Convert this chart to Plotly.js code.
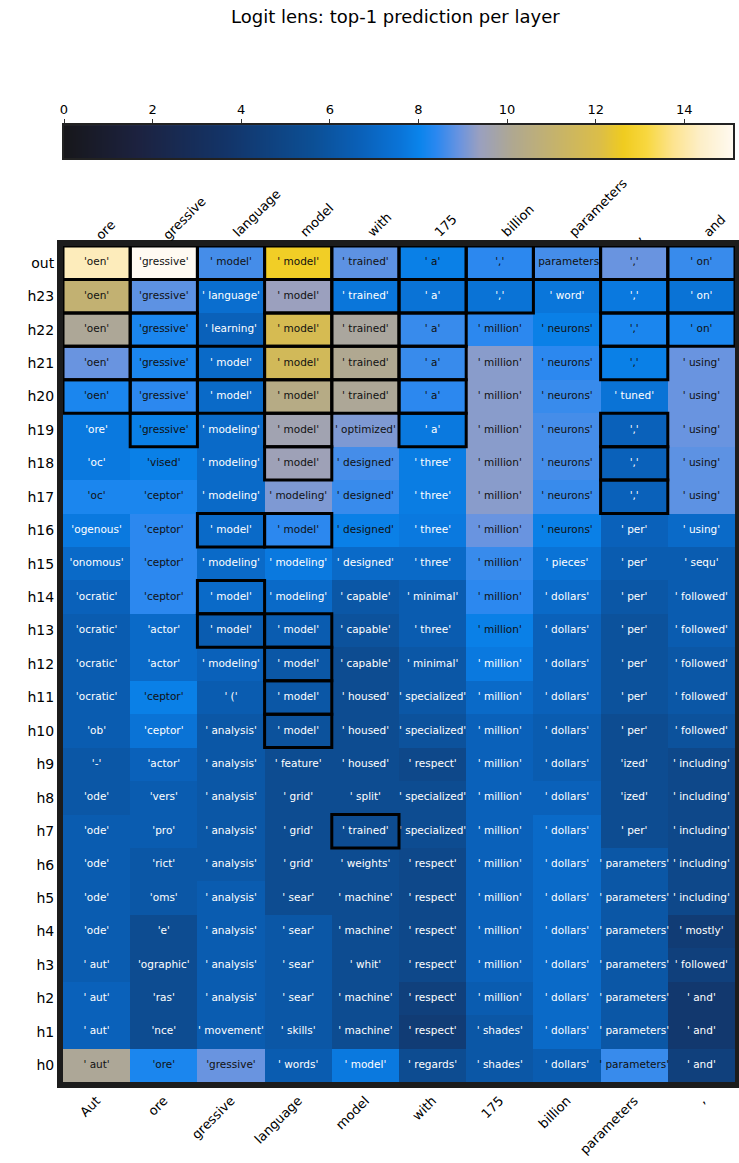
<!DOCTYPE html>
<html><head><meta charset="utf-8">
<script src="https://cdn.plot.ly/plotly-3.0.1.min.js"></script>
<style>html,body{margin:0;padding:0;background:#fff}</style>
</head><body><div id="chart" style="width:739px;height:1163px"></div>
<script>
// Input tokens (bottom axis) and true next tokens (top axis)
const inputTokens = ['Aut', 'ore', 'gressive', ' language', ' model', ' with', ' 175', ' billion', ' parameters', ','];
const nextTokens = ['ore', 'gressive', ' language', ' model', ' with', ' 175', ' billion', ' parameters', ',', ' and'];
const layerLabels = ['out', 'h23', 'h22', 'h21', 'h20', 'h19', 'h18', 'h17', 'h16', 'h15', 'h14', 'h13', 'h12',
  'h11', 'h10', 'h9', 'h8', 'h7', 'h6', 'h5', 'h4', 'h3', 'h2', 'h1', 'h0'];

// Top-1 predicted token per layer (rows, top = output) and position (columns)
const topTokens = [
  ["'oen'", "'gressive'", "' model'", "' model'", "' trained'", "' a'", "','", "' parameters'", "','", "' on'"],
  ["'oen'", "'gressive'", "' language'", "' model'", "' trained'", "' a'", "','", "' word'", "','", "' on'"],
  ["'oen'", "'gressive'", "' learning'", "' model'", "' trained'", "' a'", "' million'", "' neurons'", "','", "' on'"],
  ["'oen'", "'gressive'", "' model'", "' model'", "' trained'", "' a'", "' million'", "' neurons'", "','", "' using'"],
  ["'oen'", "'gressive'", "' model'", "' model'", "' trained'", "' a'", "' million'", "' neurons'", "' tuned'", "' using'"],
  ["'ore'", "'gressive'", "' modeling'", "' model'", "' optimized'", "' a'", "' million'", "' neurons'", "','", "' using'"],
  ["'oc'", "'vised'", "' modeling'", "' model'", "' designed'", "' three'", "' million'", "' neurons'", "','", "' using'"],
  ["'oc'", "'ceptor'", "' modeling'", "' modeling'", "' designed'", "' three'", "' million'", "' neurons'", "','", "' using'"],
  ["'ogenous'", "'ceptor'", "' model'", "' model'", "' designed'", "' three'", "' million'", "' neurons'", "' per'", "' using'"],
  ["'onomous'", "'ceptor'", "' modeling'", "' modeling'", "' designed'", "' three'", "' million'", "' pieces'", "' per'", "' sequ'"],
  ["'ocratic'", "'ceptor'", "' model'", "' modeling'", "' capable'", "' minimal'", "' million'", "' dollars'", "' per'", "' followed'"],
  ["'ocratic'", "'actor'", "' model'", "' model'", "' capable'", "' three'", "' million'", "' dollars'", "' per'", "' followed'"],
  ["'ocratic'", "'actor'", "' modeling'", "' model'", "' capable'", "' minimal'", "' million'", "' dollars'", "' per'", "' followed'"],
  ["'ocratic'", "'ceptor'", "' ('", "' model'", "' housed'", "' specialized'", "' million'", "' dollars'", "' per'", "' followed'"],
  ["'ob'", "'ceptor'", "' analysis'", "' model'", "' housed'", "' specialized'", "' million'", "' dollars'", "' per'", "' followed'"],
  ["'-'", "'actor'", "' analysis'", "' feature'", "' housed'", "' respect'", "' million'", "' dollars'", "'ized'", "' including'"],
  ["'ode'", "'vers'", "' analysis'", "' grid'", "' split'", "' specialized'", "' million'", "' dollars'", "'ized'", "' including'"],
  ["'ode'", "'pro'", "' analysis'", "' grid'", "' trained'", "' specialized'", "' million'", "' dollars'", "' per'", "' including'"],
  ["'ode'", "'rict'", "' analysis'", "' grid'", "' weights'", "' respect'", "' million'", "' dollars'", "' parameters'", "' including'"],
  ["'ode'", "'oms'", "' analysis'", "' sear'", "' machine'", "' respect'", "' million'", "' dollars'", "' parameters'", "' including'"],
  ["'ode'", "'e'", "' analysis'", "' sear'", "' machine'", "' respect'", "' million'", "' dollars'", "' parameters'", "' mostly'"],
  ["' aut'", "'ographic'", "' analysis'", "' sear'", "' whit'", "' respect'", "' million'", "' dollars'", "' parameters'", "' followed'"],
  ["' aut'", "'ras'", "' analysis'", "' sear'", "' machine'", "' respect'", "' million'", "' dollars'", "' parameters'", "' and'"],
  ["' aut'", "'nce'", "' movement'", "' skills'", "' machine'", "' respect'", "' shades'", "' dollars'", "' parameters'", "' and'"],
  ["' aut'", "'ore'", "'gressive'", "' words'", "' model'", "' regards'", "' shades'", "' dollars'", "' parameters'", "' and'"]
];

// Logit of the top-1 token
const logits = [
  [14.2, 15.1, 8.6, 12.7, 8.8, 7.9, 8.4, 8.6, 8.9, 8.5],
  [10.9, 8.8, 7.3, 9.4, 7.6, 7.5, 7.5, 7.6, 7.7, 7.5],
  [10.0, 8.2, 6.7, 11.8, 9.9, 8.5, 8.4, 7.9, 8.2, 8.2],
  [8.9, 8.2, 7.1, 11.6, 10.1, 8.5, 9.2, 8.4, 7.9, 8.9],
  [8.2, 8.4, 7.1, 10.4, 10.0, 8.4, 9.2, 8.5, 7.5, 8.9],
  [7.7, 7.9, 7.1, 9.6, 9.1, 7.7, 9.2, 8.6, 6.7, 8.9],
  [7.7, 7.9, 7.1, 9.5, 8.6, 7.8, 9.2, 8.6, 6.7, 8.8],
  [8.2, 8.2, 7.1, 9.1, 8.5, 7.8, 9.2, 8.5, 6.7, 8.8],
  [7.7, 8.4, 7.1, 8.4, 7.9, 7.7, 8.9, 7.9, 6.7, 7.1],
  [7.1, 8.4, 7.1, 7.7, 7.1, 7.1, 8.5, 7.5, 6.4, 6.4],
  [6.7, 8.4, 7.1, 7.1, 6.1, 6.4, 8.4, 7.1, 6.1, 6.4],
  [6.4, 7.1, 6.4, 6.4, 5.8, 6.4, 7.9, 6.7, 5.8, 6.4],
  [6.4, 7.1, 6.7, 6.1, 5.4, 6.1, 7.7, 6.7, 5.8, 6.1],
  [6.4, 7.9, 6.4, 6.1, 5.4, 6.1, 7.1, 6.7, 5.8, 6.1],
  [6.4, 7.5, 6.1, 5.8, 5.4, 5.8, 6.7, 6.4, 5.4, 5.8],
  [6.1, 6.7, 6.1, 5.4, 5.4, 5.1, 6.7, 6.4, 5.4, 5.1],
  [6.1, 6.4, 6.1, 5.4, 5.4, 5.4, 6.7, 6.7, 5.4, 5.1],
  [6.4, 6.4, 6.1, 5.4, 5.4, 5.4, 6.7, 7.1, 5.4, 5.1],
  [6.4, 6.1, 6.1, 5.4, 5.4, 5.1, 6.7, 7.1, 6.1, 5.1],
  [6.4, 6.1, 6.4, 5.4, 5.4, 5.1, 6.7, 7.1, 6.1, 5.1],
  [6.4, 5.4, 6.4, 6.1, 5.4, 5.1, 6.7, 7.1, 6.1, 4.2],
  [6.4, 5.4, 6.4, 6.1, 5.4, 5.1, 6.7, 7.1, 6.1, 4.5],
  [6.7, 5.4, 6.4, 6.1, 5.4, 4.5, 6.4, 7.1, 6.1, 3.9],
  [6.7, 5.4, 6.4, 6.1, 5.4, 4.2, 6.1, 7.1, 6.1, 3.9],
  [10.0, 8.2, 8.9, 6.4, 7.7, 5.4, 6.1, 6.4, 8.5, 4.5]
];

const zRange = [0, 15.1];
const colorbarTicks = [0, 2, 4, 6, 8, 10, 12, 14];
const titleText = 'Logit lens: top-1 prediction per layer';

const colorscale = [
  [0, '#17171b'], [0.11, '#1c2240'], [0.24, '#133468'], [0.37, '#0c4f95'], [0.44, '#0a60b8'],
  [0.5, '#0a74d8'], [0.53, '#0a84ec'], [0.555, '#2a88f0'], [0.59, '#6a94e0'], [0.62, '#9aa0c0'],
  [0.67, '#b0a890'], [0.74, '#c8b468'], [0.8, '#dcbe48'], [0.835, '#f0cc20'], [0.87, '#f8d840'],
  [0.91, '#fde490'], [0.95, '#fdefc8'], [1, '#fffaf2']
];

const nRows = layerLabels.length, nCols = inputTokens.length;
const colIdx = inputTokens.map((_, i) => i);
const rowIdx = layerLabels.map((_, i) => i);

const tx = [], ty = [], tt = [], tc = [];
const shapes = [];
for (let r = 0; r < nRows; r++) {
  for (let c = 0; c < nCols; c++) {
    tx.push(c); ty.push(r); tt.push(topTokens[r][c]);
    tc.push(logits[r][c] >= 7.85 ? '#111111' : '#ffffff');
    if (topTokens[r][c] === topTokens[0][c]) {
      shapes.push({type: 'rect', xref: 'x', yref: 'y', x0: c - 0.5, x1: c + 0.5, y0: r - 0.5, y1: r + 0.5,
        line: {color: '#000', width: 3}, layer: 'above'});
    }
  }
}

const font = 'DejaVu Sans, sans-serif';
const traces = [
  {type: 'heatmap', z: logits, x: colIdx, y: rowIdx, colorscale, zmin: zRange[0], zmax: zRange[1],
   showscale: false, hoverinfo: 'skip', xaxis: 'x', yaxis: 'y'},
  {type: 'scatter', mode: 'text', x: tx, y: ty, text: tt, textposition: 'middle center',
   textfont: {family: font, size: 10.5, color: tc}, hoverinfo: 'skip', showlegend: false, xaxis: 'x3', yaxis: 'y'},
  {type: 'heatmap', z: [zRange, zRange], x: zRange, y: [0, 1], colorscale, zmin: zRange[0], zmax: zRange[1],
   zsmooth: 'best', showscale: false, hoverinfo: 'skip', xaxis: 'x2', yaxis: 'y2'}
];

const layout = {
  width: 739, height: 1163,
  margin: {l: 63, r: 4, t: 100, b: 81},
  paper_bgcolor: '#fff', plot_bgcolor: '#fff',
  showlegend: false,
  title: {text: titleText, font: {family: font, size: 18, color: '#000'}, x: 0.535, xanchor: 'center', y: 0.986, yanchor: 'middle'},
  xaxis: {domain: [0, 1], anchor: 'y', range: [-0.5, 9.5], tickvals: colIdx, ticktext: inputTokens,
    tickangle: -45, tickfont: {family: font, size: 13, color: '#000'}, showgrid: false, zeroline: false,
    showline: true, mirror: true, linewidth: 6, linecolor: '#1c1c1c', ticks: '', automargin: false},
  xaxis3: {overlaying: 'x', side: 'top', anchor: 'y', range: [-0.5, 9.5], tickvals: colIdx, ticktext: nextTokens,
    tickangle: -45, tickfont: {family: font, size: 13, color: '#000'}, showgrid: false, zeroline: false,
    ticks: '', automargin: false},
  yaxis: {domain: [0, 0.8513], anchor: 'x', range: [nRows - 0.5, -0.5], tickvals: rowIdx, ticktext: layerLabels,
    tickfont: {family: font, size: 14, color: '#000'}, showgrid: false, zeroline: false,
    showline: true, mirror: true, linewidth: 6, linecolor: '#1c1c1c', ticks: '', automargin: false},
  xaxis2: {domain: [0.0015, 0.997], anchor: 'y2', side: 'top', range: zRange, tickvals: colorbarTicks,
    tickfont: {family: font, size: 13, color: '#000'}, ticks: 'outside', ticklen: 4, tickcolor: '#333',
    showline: true, mirror: true, linewidth: 2, linecolor: '#222', showgrid: false, zeroline: false, automargin: false},
  yaxis2: {domain: [0.9409, 0.9745], anchor: 'x2', range: [0, 1], showticklabels: false, showgrid: false,
    zeroline: false, showline: true, mirror: true, linewidth: 2, linecolor: '#222', ticks: ''},
  shapes
};

Plotly.newPlot('chart', traces, layout, {displayModeBar: false, staticPlot: true});
</script></body></html>
